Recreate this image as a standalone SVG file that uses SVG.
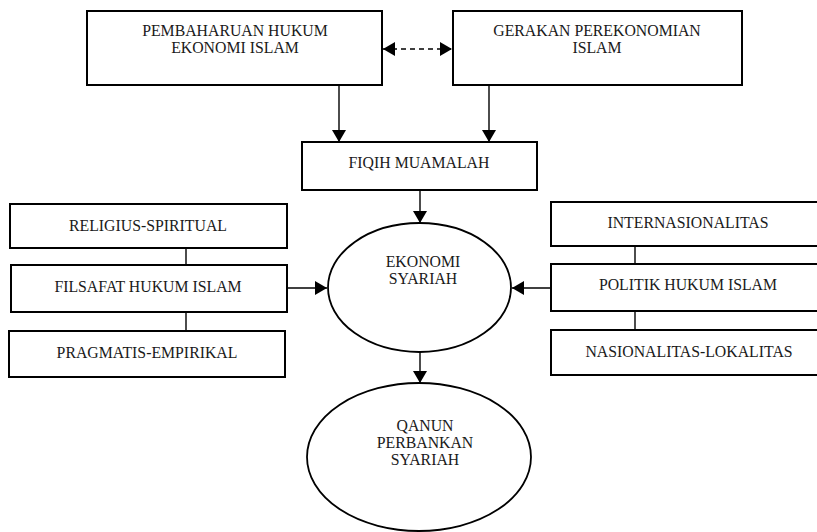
<svg xmlns="http://www.w3.org/2000/svg" width="817" height="532" viewBox="0 0 817 532">
<defs>
<style>
.box{fill:#fff;stroke:#000;stroke-width:2}
.ell{fill:#fff;stroke:#000;stroke-width:1.8}
.t{font-family:"Liberation Serif","Times New Roman",serif;font-size:15.8px;fill:#1a1a1a;text-anchor:middle}
.c{fill:none;stroke:#000;stroke-width:1.4}
.d{fill:none;stroke:#000;stroke-width:1.4;stroke-dasharray:5,4}
</style>
<marker id="ah" viewBox="0 0 12 14" refX="12" refY="7" markerWidth="12" markerHeight="14" markerUnits="userSpaceOnUse" orient="auto-start-reverse">
<path d="M0,0 L12,7 L0,14 Z" fill="#000"/>
</marker>
</defs>
<rect width="817" height="532" fill="#fff"/>
<g id="connectors">
<line class="d" x1="383" y1="49" x2="452" y2="49" marker-start="url(#ah)" marker-end="url(#ah)"/>
<line class="c" x1="339" y1="86" x2="339" y2="142" marker-end="url(#ah)"/>
<line class="c" x1="489" y1="86" x2="489" y2="142" marker-end="url(#ah)"/>
<line class="c" x1="420" y1="191" x2="420" y2="223" marker-end="url(#ah)"/>
<line class="c" x1="186" y1="248" x2="186" y2="265"/>
<line class="c" x1="186" y1="312" x2="186" y2="331"/>
<line class="c" x1="287" y1="288" x2="327" y2="288" marker-end="url(#ah)"/>
<line class="c" x1="635" y1="246" x2="635" y2="264"/>
<line class="c" x1="635" y1="311" x2="635" y2="330"/>
<line class="c" x1="551" y1="288" x2="512" y2="288" marker-end="url(#ah)"/>
<line class="c" x1="420" y1="352" x2="420" y2="383" marker-end="url(#ah)"/>
</g>
<g id="pembaharuan">
<rect class="box" x="87" y="11" width="295" height="74"/>
<text class="t" x="235" y="36">PEMBAHARUAN HUKUM</text>
<text class="t" x="235" y="53">EKONOMI ISLAM</text>
</g>
<g id="gerakan">
<rect class="box" x="453" y="11" width="289" height="74"/>
<text class="t" x="597" y="36">GERAKAN PEREKONOMIAN</text>
<text class="t" x="597" y="53">ISLAM</text>
</g>
<g id="fiqih">
<rect class="box" x="302" y="142" width="235" height="48"/>
<text class="t" x="419" y="168">FIQIH MUAMALAH</text>
</g>
<g id="religius">
<rect class="box" x="10" y="204" width="277" height="44"/>
<text class="t" x="148" y="231">RELIGIUS-SPIRITUAL</text>
</g>
<g id="filsafat">
<rect class="box" x="11" y="265" width="276" height="47"/>
<text class="t" x="148" y="292">FILSAFAT HUKUM ISLAM</text>
</g>
<g id="pragmatis">
<rect class="box" x="9" y="331" width="276" height="46"/>
<text class="t" x="147" y="358">PRAGMATIS-EMPIRIKAL</text>
</g>
<g id="internasionalitas">
<rect class="box" x="551" y="202" width="276" height="44"/>
<text class="t" x="688" y="228">INTERNASIONALITAS</text>
</g>
<g id="politik">
<rect class="box" x="551" y="264" width="276" height="47"/>
<text class="t" x="688" y="290">POLITIK HUKUM ISLAM</text>
</g>
<g id="nasionalitas">
<rect class="box" x="551" y="330" width="276" height="45"/>
<text class="t" x="689" y="357">NASIONALITAS-LOKALITAS</text>
</g>
<g id="ekonomi-syariah">
<ellipse class="ell" cx="419.5" cy="287.5" rx="91.5" ry="64.5"/>
<text class="t" x="423" y="267">EKONOMI</text>
<text class="t" x="423" y="284">SYARIAH</text>
</g>
<g id="qanun">
<ellipse class="ell" cx="419" cy="457" rx="112" ry="74"/>
<text class="t" x="425" y="431">QANUN</text>
<text class="t" x="425" y="448">PERBANKAN</text>
<text class="t" x="425" y="465">SYARIAH</text>
</g>
</svg>
